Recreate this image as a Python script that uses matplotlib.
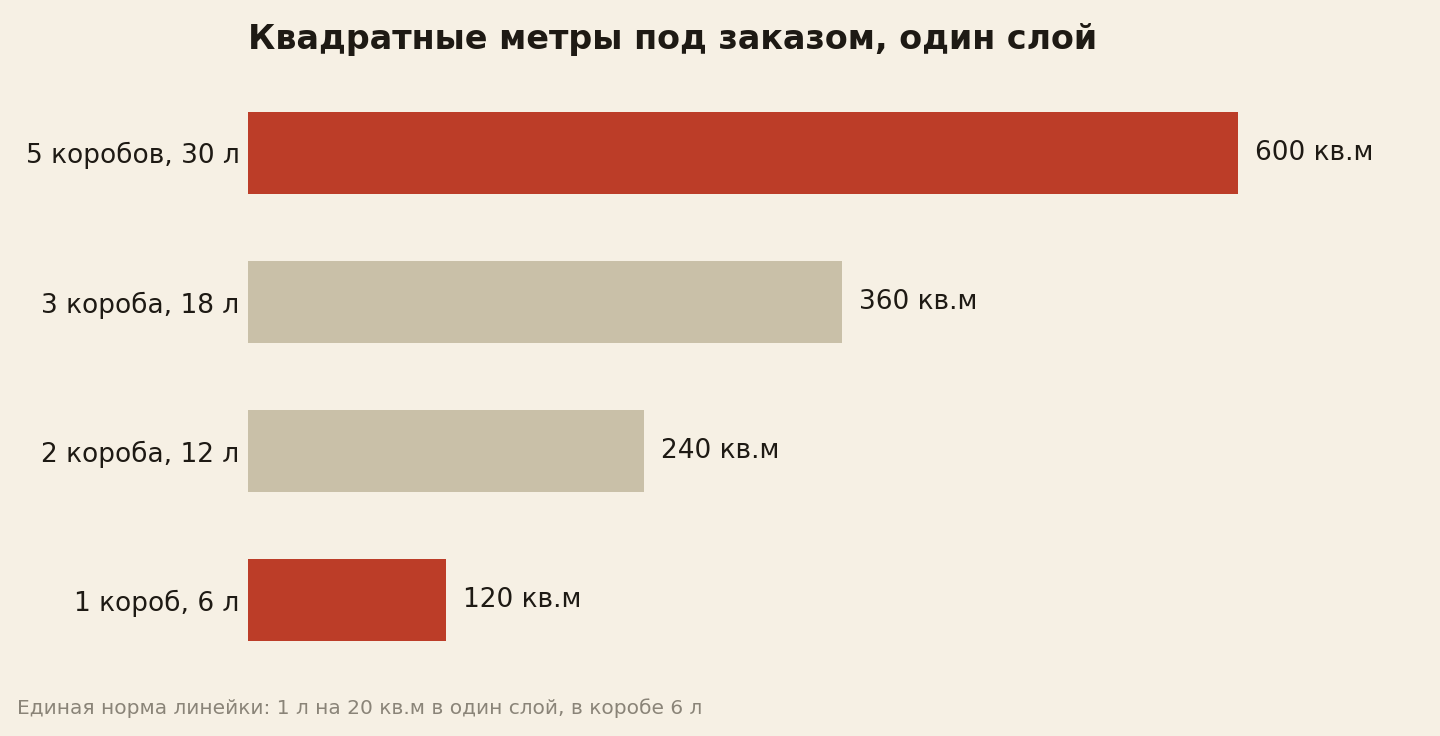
import matplotlib.pyplot as plt

# Data
categories = ['5 коробов, 30 л', '3 короба, 18 л', '2 короба, 12 л', '1 короб, 6 л']
area_m2 = [600, 360, 240, 120]
highlight = [True, False, False, True]

bg = '#F6F0E4'
red = '#BC3D28'
beige = '#C9C0A8'
dark = '#1E1A14'

fig = plt.figure(figsize=(14.4, 7.36), dpi=100, facecolor=bg)
ax = fig.add_axes([248 / 1440, 1 - 675 / 736, 1150 / 1440, (675 - 78) / 736])
ax.set_facecolor(bg)

ypos = list(range(len(categories)))
colors = [red if h else beige for h in highlight]
ax.barh(ypos, area_m2, height=0.55, color=colors)
ax.set_ylim(len(categories) - 0.5, -0.5)
ax.set_xlim(0, 1150 / 1.65)

for y, v in zip(ypos, area_m2):
    ax.text(v + 10, y, f'{v} кв.м', va='center', ha='left', fontsize=19, color=dark)

ax.set_yticks(ypos)
ax.set_yticklabels(categories, fontsize=19, color=dark)
ax.tick_params(axis='y', length=0, pad=6)
ax.set_xticks([])
for s in ax.spines.values():
    s.set_visible(False)

fig.text(248 / 1440, 1 - 40 / 736, 'Квадратные метры под заказом, один слой',
         fontsize=24, fontweight='bold', color=dark, ha='left', va='center')
fig.text(17 / 1440, 1 - 708 / 736, 'Единая норма линейки: 1 л на 20 кв.м в один слой, в коробе 6 л',
         fontsize=14.5, color='#8A8478', ha='left', va='center')

fig.savefig('out.png', dpi=100, facecolor=bg)
